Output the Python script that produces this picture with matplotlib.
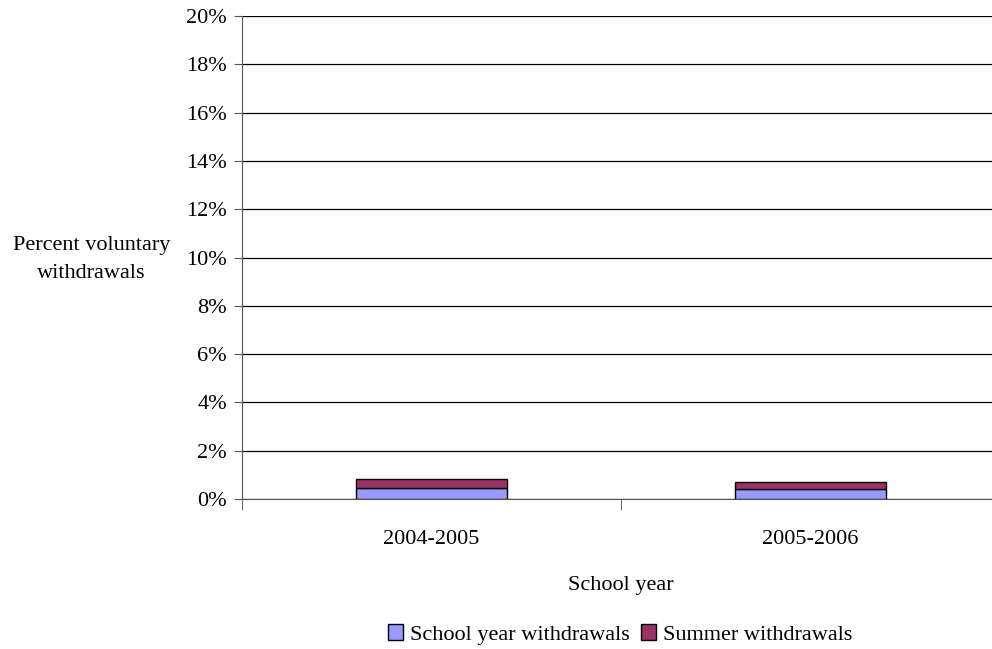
import matplotlib.pyplot as plt
import numpy as np
from matplotlib.ticker import FixedLocator, PercentFormatter

years = ["2004-2005", "2005-2006"]
school_year = [0.44, 0.40]
summer = [0.39, 0.29]
y_ticks = [0, 2, 4, 6, 8, 10, 12, 14, 16, 18, 20]

plt.rcParams['font.family'] = ['Liberation Serif', 'DejaVu Serif']
fs = 16

fig = plt.figure(figsize=(9.92, 6.49), dpi=100)
ax = fig.add_axes([0.244, 0.2311, 0.764, 0.7442])

x = np.arange(len(years))
ax.bar(x, school_year, width=0.4, color='#9999ff', edgecolor='black', linewidth=1, label='School year withdrawals', zorder=3)
ax.bar(x, summer, width=0.4, bottom=school_year, color='#993366', edgecolor='black', linewidth=1, label='Summer withdrawals', zorder=3)

ax.set_xlim(-0.5, len(years) - 0.5)
ax.set_ylim(0, 20)
ax.set_yticks(y_ticks)
ax.yaxis.set_major_formatter(PercentFormatter(decimals=0))
ax.grid(axis='y', color='black', linewidth=0.9, zorder=0)

# category labels sit between the boundary ticks
ax.set_xticks(x)
ax.set_xticklabels(years)
ax.tick_params(axis='x', which='major', length=0, pad=22, labelsize=fs)
ax.xaxis.set_minor_locator(FixedLocator(np.arange(-0.5, len(years), 1.0)))
ax.tick_params(axis='x', which='minor', length=8, color='#555555')
ax.tick_params(axis='y', length=6, color='#555555', labelsize=fs, pad=5)

for s in ['top', 'right']:
    ax.spines[s].set_visible(False)
ax.spines['left'].set_color('#555555')
ax.spines['bottom'].set_color('#555555')

ax.set_xlabel('School year', fontsize=fs, labelpad=20)
fig.text(0.092, 0.600, 'Percent voluntary\nwithdrawals', ha='center', va='center', fontsize=fs, linespacing=1.6)

fig.legend(loc='center', bbox_to_anchor=(0.625, 0.022), ncol=2, frameon=False, fontsize=fs,
           handlelength=0.7, handleheight=0.7, handletextpad=0.3, columnspacing=0.5)

fig.savefig('out.png', dpi=100)
